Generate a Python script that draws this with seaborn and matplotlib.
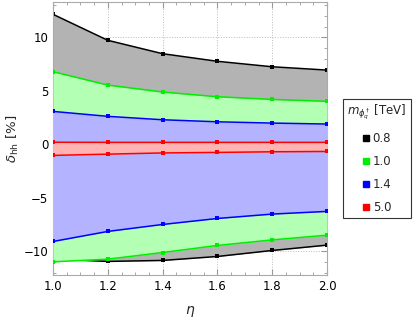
import numpy as np
import pandas as pd
import matplotlib
matplotlib.use("Agg")
import matplotlib.pyplot as plt
import seaborn as sns
from matplotlib.lines import Line2D
from matplotlib.ticker import MultipleLocator

# %% data
eta = [1.0, 1.2, 1.4, 1.6, 1.8, 2.0]
masses = ["0.8", "1.0", "1.4", "5.0"]
upper = {
    "0.8": [12.15, 9.72, 8.47, 7.76, 7.25, 6.94],
    "1.0": [6.79, 5.54, 4.89, 4.45, 4.20, 4.02],
    "1.4": [3.08, 2.62, 2.30, 2.11, 1.99, 1.90],
    "5.0": [0.20, 0.19, 0.19, 0.19, 0.19, 0.19],
}
lower = {
    "0.8": [-10.72, -10.93, -10.84, -10.47, -9.91, -9.41],
    "1.0": [-10.97, -10.72, -10.10, -9.44, -8.92, -8.48],
    "1.4": [-9.07, -8.13, -7.48, -6.92, -6.51, -6.26],
    "5.0": [-1.03, -0.91, -0.80, -0.75, -0.69, -0.66],
}
line_col = {"0.8": "#000000", "1.0": "#00ee00", "1.4": "#0000ff", "5.0": "#ff0000"}
fill_col = {"0.8": "#b3b3b3", "1.0": "#b3ffb3", "1.4": "#b3b3ff", "5.0": "#ffb3b3"}

rows = []
for m in masses:
    for side, vals in (("up", upper[m]), ("lo", lower[m])):
        for e, v in zip(eta, vals):
            rows.append({"eta": e, "delta": v, "mass": m, "side": side})
df = pd.DataFrame(rows)

# %% plot
sns.set_style("ticks")
plt.rcParams["font.family"] = ["DejaVu Sans"]
fig = plt.figure(figsize=(4.15, 3.2), dpi=100)
ax = fig.add_axes([53 / 415, 1 - 275 / 320, (327 - 53) / 415, (275 - 2) / 320])

ax.grid(True, which="major", color="#bbbbbb", linestyle=":", linewidth=0.7)
ax.set_axisbelow(True)
ax.axhline(0, color="#666666", lw=0.7, zorder=1)

for i, m in enumerate(masses):
    ax.fill_between(eta, lower[m], upper[m], color=fill_col[m], lw=0, zorder=2 + i)
    sub = df[df["mass"] == m]
    sns.lineplot(data=sub, x="eta", y="delta", units="side", estimator=None,
                 color=line_col[m], marker="s", markersize=3.5, markeredgewidth=0,
                 lw=1.1, ax=ax, zorder=2.5 + i, legend=False)

ax.set_xlim(1.0, 2.0)
ax.set_ylim(-12.2, 13.3)
ax.xaxis.set_major_locator(MultipleLocator(0.2))
ax.xaxis.set_minor_locator(MultipleLocator(0.05))
ax.yaxis.set_major_locator(MultipleLocator(5))
ax.yaxis.set_minor_locator(MultipleLocator(1))
ax.xaxis.set_major_formatter(matplotlib.ticker.FormatStrFormatter("%.1f"))
ax.tick_params(which="both", direction="in", top=True, right=True,
               colors="#999999", labelcolor="black", labelsize=8.5)
ax.tick_params(which="major", length=4)
ax.tick_params(which="minor", length=2)
for s in ax.spines.values():
    s.set_color("#aaaaaa")
    s.set_linewidth(0.8)

ax.set_xlabel(r"$\eta$", fontsize=10, labelpad=8)
ax.set_ylabel(r"$\delta_{\rm hh}$ [%]", fontsize=9.5, labelpad=2)

handles = [Line2D([], [], marker="s", ls="", color=line_col[m], markersize=4.5)
           for m in masses]
leg = ax.legend(handles, masses, title=r"$m_{\phi_q^\dagger}$ [TeV]",
                loc="center left", bbox_to_anchor=(1.058, 0.427), borderaxespad=0,
                frameon=True, fancybox=False, edgecolor="black", fontsize=8.5,
                title_fontsize=8.5, handlelength=0.6, handletextpad=0.3,
                labelspacing=0.85, borderpad=0.35)
leg.get_frame().set_linewidth(0.8)

fig.savefig("out.png", dpi=100)
